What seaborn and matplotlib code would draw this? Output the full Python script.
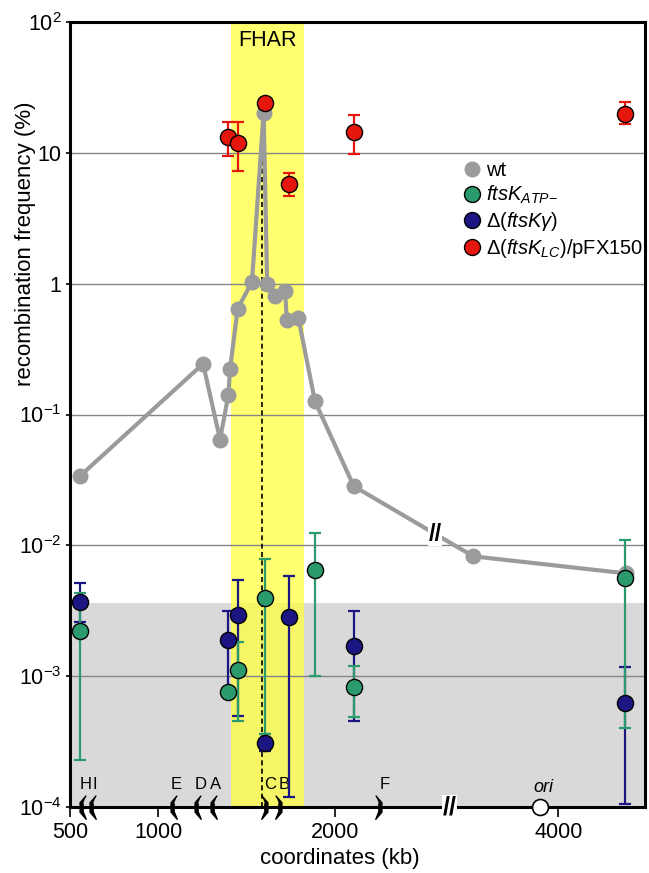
import numpy as np
import matplotlib
matplotlib.use("Agg")
import matplotlib.pyplot as plt
from matplotlib.lines import Line2D
from matplotlib.ticker import NullLocator
import seaborn as sns

# wt
wt_x = [555, 1254, 1350, 1397, 1407, 1450, 1531, 1597, 1617, 1662, 1719, 1728, 1794, 1888, 2108, 3518, 4385]
wt_y = [0.0337, 0.244, 0.0644, 0.140, 0.224, 0.644, 1.03, 20.3, 1.0, 0.81, 0.88, 0.53, 0.546, 0.126,
        0.0283, 0.00824, 0.0061]

# ftsK ATP-
atp_x = [555, 1395, 1450, 1605, 1888, 2108, 4375]
atp_y = [2.22e-3, 7.63e-4, 1.12e-3, 3.96e-3, 6.48e-3, 8.33e-4, 5.62e-3]
atp_lo = [2.28e-4, 7.63e-4, 4.55e-4, 3.6e-4, 1.0e-3, 4.91e-4, 4.0e-4]
atp_hi = [4.32e-3, 7.63e-4, 1.83e-3, 7.87e-3, 1.24e-2, 1.2e-3, 1.1e-2]

# delta(ftsK gamma)
gam_x = [555, 1395, 1450, 1605, 1740, 2108, 4375]
gam_y = [3.66e-3, 1.90e-3, 2.95e-3, 3.07e-4, 2.85e-3, 1.71e-3, 6.28e-4]
gam_lo = [2.6e-3, 7.7e-4, 4.97e-4, 2.7e-4, 1.19e-4, 4.55e-4, 1.06e-4]
gam_hi = [5.15e-3, 3.13e-3, 5.46e-3, 3.6e-4, 5.86e-3, 3.13e-3, 1.18e-3]

# delta(ftsK LC)/pFX150
lc_x = [1395, 1450, 1605, 1740, 2108, 4375]
lc_y = [13.1, 11.9, 24.1, 5.73, 14.5, 19.7]
lc_lo = [9.48, 7.28, 24.1, 4.69, 9.77, 16.5]
lc_hi = [17.1, 17.1, 24.1, 7.03, 19.4, 24.3]

# ter sites, ori, dif, FHAR, detection limit
ter_names = ["H", "I", "E", "D", "A", "C", "B", "F"]
ter_x = [564, 617, 1076, 1214, 1303, 1611, 1690, 2257]
ter_left = [True, True, True, True, True, False, False, False]
ori_x = 3897
dif_x = 1590
fhar = (1410, 1827)
det_limit = 3.6e-3

xticks = [500, 1000, 2000, 4000]
yticks = [1e-4, 1e-3, 1e-2, 1e-1, 1, 10, 100]
ytick_labels = ["$10^{-4}$", "$10^{-3}$", "$10^{-2}$", "$10^{-1}$", "1", "10", "$10^{2}$"]

c_wt = "#9b9b9b"
c_atp = "#2b9a6c"
c_gam = "#1b1682"
c_lc = "#e5170d"

# axis break (kb)
B1, B2, EPS = 2650, 3390, 0.01


def fwd(x):
    x = np.asarray(x, dtype=float)
    return np.where(x <= B1, x, np.where(x < B2, B1 + (x - B1) * EPS, x - (B2 - B1) * (1 - EPS)))


def inv(d):
    d = np.asarray(d, dtype=float)
    edge = B1 + (B2 - B1) * EPS
    return np.where(d <= B1, d, np.where(d < edge, B1 + (d - B1) / EPS, d + (B2 - B1) * (1 - EPS)))


sns.set_theme(style="ticks")
plt.rcParams["font.family"] = ["Liberation Sans", "DejaVu Sans"]
plt.rcParams["mathtext.fontset"] = "custom"
plt.rcParams["mathtext.rm"] = "Liberation Sans"
plt.rcParams["mathtext.it"] = "Liberation Sans:italic"
plt.rcParams["mathtext.bf"] = "Liberation Sans:bold"
for k in ["text.color", "axes.labelcolor", "xtick.color", "ytick.color", "axes.edgecolor"]:
    plt.rcParams[k] = "black"

fig = plt.figure(figsize=(6.49, 8.73), dpi=100)
ax = fig.add_axes([0.1079, 0.0756, 0.886, 0.8992])

ymin, ymax = 1e-4, 100

# background bands and grid
ax.axhspan(ymin, det_limit, color="#d9d9d9", lw=0, zorder=0.5)
ax.axvspan(fhar[0], fhar[1], color="#ffff40", alpha=0.75, lw=0, zorder=1)
for yv in yticks[1:-1]:
    ax.axhline(yv, color="#858585", lw=1.0, zorder=1.5)
ax.vlines(dif_x, ymin, max(wt_y), colors="black", linestyles=(0, (3, 2)), lw=1.2, zorder=2)

# wt
sns.lineplot(x=wt_x, y=wt_y, ax=ax, color=c_wt, lw=3, marker="o", markersize=11.5,
             markeredgewidth=0, estimator=None, zorder=3, legend=False)

# error bars
def err(y, lo, hi):
    y = np.array(y); return [y - np.array(lo), np.array(hi) - y]

ax.errorbar(gam_x, gam_y, yerr=err(gam_y, gam_lo, gam_hi), fmt="none", ecolor=c_gam,
            elinewidth=1.6, capsize=4.5, capthick=1.6, zorder=4)
ax.errorbar(atp_x, atp_y, yerr=err(atp_y, atp_lo, atp_hi), fmt="none", ecolor=c_atp,
            elinewidth=1.6, capsize=4.5, capthick=1.6, zorder=4.5)
ax.errorbar(lc_x, lc_y, yerr=err(lc_y, lc_lo, lc_hi), fmt="none", ecolor=c_lc,
            elinewidth=1.6, capsize=4.5, capthick=1.6, zorder=4.5)

for xs, ys, col in [(gam_x, gam_y, c_gam), (atp_x, atp_y, c_atp), (lc_x, lc_y, c_lc)]:
    sns.scatterplot(x=xs, y=ys, ax=ax, color=col, s=135, edgecolor="black", linewidth=1,
                    zorder=6, legend=False)

ax.set_xscale("function", functions=(fwd, inv))
ax.set_yscale("log")
ax.set_xlim(500, 4491)
ax.set_ylim(ymin, ymax)
ax.set_xticks(xticks)
ax.set_xticklabels([str(t) for t in xticks])
ax.xaxis.set_minor_locator(NullLocator())
ax.set_yticks(yticks)
ax.set_yticklabels(ytick_labels)
ax.yaxis.set_minor_locator(NullLocator())
ax.tick_params(axis="x", length=7, width=1.2, pad=4, labelsize=15.5, direction="out")
ax.tick_params(axis="y", length=3, width=1.2, pad=3, labelsize=15.5, direction="out")
for s in ax.spines.values():
    s.set_linewidth(2.2)
    s.set_zorder(5)

ax.set_xlabel("coordinates (kb)", fontsize=16)
ax.set_ylabel("recombination frequency (%)", fontsize=16)
ax.xaxis.set_label_coords(0.469, -0.052)
ax.yaxis.set_label_coords(-0.059, 0.718)

# FHAR label
ax.text(np.mean(fhar), 0.976, "FHAR", transform=ax.get_xaxis_transform(), ha="center", va="center",
        fontsize=15.5)

# ter sites on the axis
left_shape = [(0.4, 1.0), (-0.12, 0.4), (-0.12, -0.4), (0.4, -1.0), (0.14, -0.35), (0.14, 0.35)]
right_shape = [(-px, py) for px, py in left_shape]
for name, tx, left in zip(ter_names, ter_x, ter_left):
    ax.plot([tx], [ymin], ls="none", marker=left_shape if left else right_shape, markersize=17,
            color="black", clip_on=False, zorder=7)
    ax.annotate(name, (tx, ymin), xytext=(3, 16), textcoords="offset points", ha="center",
                va="center", fontsize=12, annotation_clip=False)

# ori
ax.plot([ori_x], [ymin], ls="none", marker="o", markersize=11.5, mfc="white", mec="black", mew=1.2,
        clip_on=False, zorder=7)
ax.annotate("ori", (ori_x, ymin), xytext=(2, 14), textcoords="offset points", ha="center",
            va="center", fontsize=13, fontstyle="italic", annotation_clip=False)

# axis break mark
ax.text(B1, ymin, "//", ha="center", va="center", fontsize=18, fontweight="bold", clip_on=False,
        zorder=8, bbox=dict(facecolor="white", edgecolor="none", pad=0.3))

# break mark on the wt line
x0, x1 = fwd(wt_x[-3]), fwd(wt_x[-2])
brk_x = 2570
frac = (brk_x - x0) / (x1 - x0)
brk_y = 10 ** (np.log10(wt_y[-3]) + frac * (np.log10(wt_y[-2]) - np.log10(wt_y[-3])))
ax.text(brk_x, brk_y, "//", ha="center", va="center", fontsize=17, fontweight="bold", zorder=4,
        bbox=dict(facecolor="white", edgecolor="none", pad=0.1))

# legend
handles = [
    Line2D([], [], ls="none", marker="o", markersize=11.5, mfc=c_wt, mec="none"),
    Line2D([], [], ls="none", marker="o", markersize=11.5, mfc=c_atp, mec="black"),
    Line2D([], [], ls="none", marker="o", markersize=11.5, mfc=c_gam, mec="black"),
    Line2D([], [], ls="none", marker="o", markersize=11.5, mfc=c_lc, mec="black"),
]
labels = ["wt", r"$ftsK_{ATP\mathrm{-}}$", r"Δ($ftsK\gamma$)", r"Δ($ftsK_{LC}$)/pFX150"]
ax.legend(handles, labels, loc="upper left", bbox_to_anchor=(0.681, 0.823), frameon=False,
          fontsize=14.5, handlelength=1.0, handletextpad=0.2, labelspacing=0.2, borderpad=0,
          borderaxespad=0)

fig.savefig("out.png", dpi=100)
